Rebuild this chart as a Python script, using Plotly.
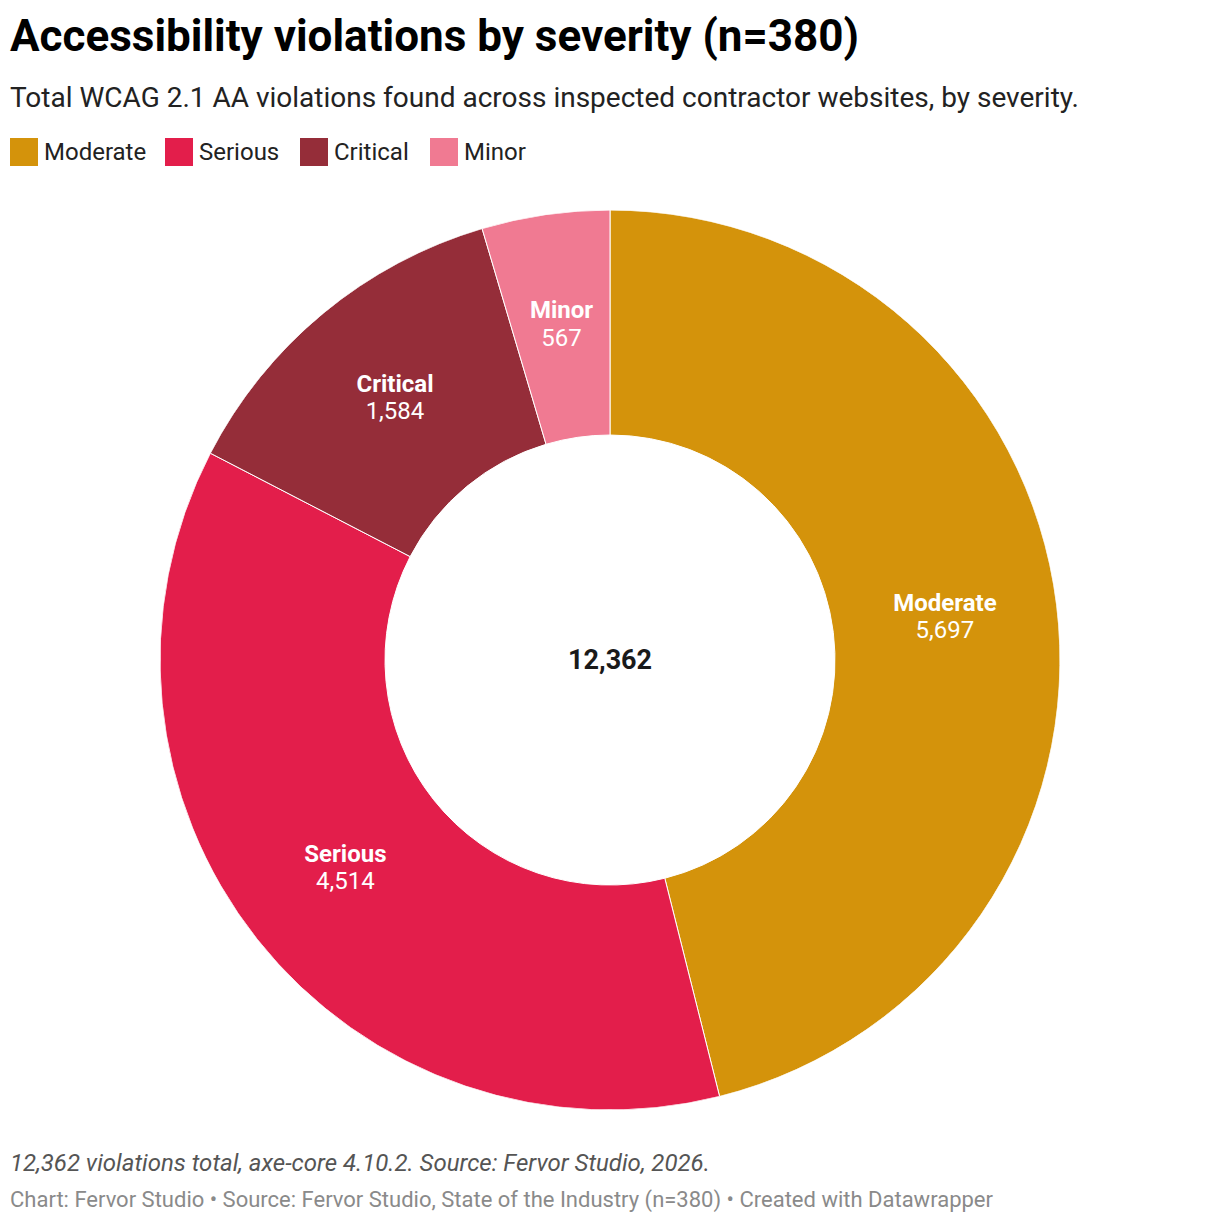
import plotly.graph_objects as go

# Violations par sévérité (ordre horaire depuis midi)
severities = ["Moderate", "Serious", "Critical", "Minor"]
counts = [5697, 4514, 1584, 567]
colors = ["#d4930b", "#e31e4b", "#952d39", "#f07a92"]

title = "Accessibility violations by severity (n=380)"
subtitle = "Total WCAG 2.1 AA violations found across inspected contractor websites, by severity."
note = "12,362 violations total, axe-core 4.10.2. Source: Fervor Studio, 2026."
credit = "Chart: Fervor Studio • Source: Fervor Studio, State of the Industry (n=380) • Created with Datawrapper"

W, H = 1220, 1224
OFF = 8  # marge du body dans la page


def px(x):
    return (x - OFF) / W


def py(y):
    return 1 - (y - OFF) / H


total = sum(counts)
HOLE = 0.5

# secteurs : largeur et milieu en degrés (sens horaire depuis midi)
widths = [c / total * 360 for c in counts]
mid_angles = []
acc = 0
for w in widths:
    mid_angles.append(acc + w / 2)
    acc += w

dom = dict(x=[px(160), px(1060)], y=[py(1110), py(210)])

fig = go.Figure()

# anneau (donut) en barpolar
fig.add_trace(go.Barpolar(
    r=[1 - HOLE] * len(counts),
    base=[HOLE] * len(counts),
    theta=mid_angles,
    width=widths,
    marker=dict(color=colors, line=dict(color="white", width=1)),
    customdata=counts,
    text=severities,
    hovertemplate="%{text}: %{customdata:,}<extra></extra>",
    showlegend=False,
))

# étiquettes au milieu de l'anneau : nom au-dessus, valeur en dessous
# (marqueur invisible pour écarter un peu les deux lignes)
label_r = [(1 + HOLE) / 2] * len(counts)
fig.add_trace(go.Scatterpolar(
    r=label_r, theta=mid_angles, mode="markers+text",
    marker=dict(size=1, opacity=0),
    text=[f"<b>{s}</b>" for s in severities],
    textposition="top center",
    textfont=dict(family="Roboto", size=24, color="white"),
    hoverinfo="skip", showlegend=False,
))
fig.add_trace(go.Scatterpolar(
    r=label_r, theta=mid_angles, mode="markers+text",
    marker=dict(size=1, opacity=0),
    text=[f"{c:,}" for c in counts],
    textposition="bottom center",
    textfont=dict(family="Roboto", size=24, color="white"),
    hoverinfo="skip", showlegend=False,
))

annotations = []
shapes = []

# Total au centre
annotations.append(dict(text="<b>" + f"{total:,}" + "</b>", x=px(610), y=py(660),
                        xref="paper", yref="paper", showarrow=False,
                        font=dict(family="Roboto", size=27, color="#1a1a1a")))

# Titre, sous-titre
annotations.append(dict(text="<b>" + title + "</b>", x=px(8), y=py(36), xref="paper", yref="paper",
                        xanchor="left", yanchor="middle", showarrow=False,
                        font=dict(family="Roboto", size=44, color="#000000")))
annotations.append(dict(text=subtitle, x=px(8), y=py(98), xref="paper", yref="paper",
                        xanchor="left", yanchor="middle", showarrow=False,
                        font=dict(family="Roboto", size=28, color="#222222")))

# Légende maison (carrés + texte)
legend_x = [10, 165, 300, 430]
for name, col, lx in zip(severities, colors, legend_x):
    shapes.append(dict(type="rect", xref="paper", yref="paper",
                       x0=px(lx), x1=px(lx + 28), y0=py(166), y1=py(138),
                       fillcolor=col, line=dict(width=0)))
    annotations.append(dict(text=name, x=px(lx + 32), y=py(152), xref="paper", yref="paper",
                            xanchor="left", yanchor="middle", showarrow=False,
                            font=dict(family="Roboto", size=24, color="#222222")))

# Notes de bas
annotations.append(dict(text="<i>" + note + "</i>", x=px(8), y=py(1163), xref="paper", yref="paper",
                        xanchor="left", yanchor="middle", showarrow=False,
                        font=dict(family="Roboto", size=24, color="#555555")))
annotations.append(dict(text=credit, x=px(8), y=py(1200), xref="paper", yref="paper",
                        xanchor="left", yanchor="middle", showarrow=False,
                        font=dict(family="Roboto", size=22, color="#8a8a8a")))

fig.update_layout(
    width=W, height=H,
    margin=dict(l=0, r=0, t=0, b=0),
    paper_bgcolor="white",
    plot_bgcolor="white",
    annotations=annotations,
    shapes=shapes,
    polar=dict(
        domain=dom,
        bgcolor="rgba(0,0,0,0)",
        bargap=0,
        radialaxis=dict(range=[0, 1], visible=False, showgrid=False),
        angularaxis=dict(rotation=90, direction="clockwise", visible=False, showgrid=False),
    ),
)

fig.write_html("out.html")
